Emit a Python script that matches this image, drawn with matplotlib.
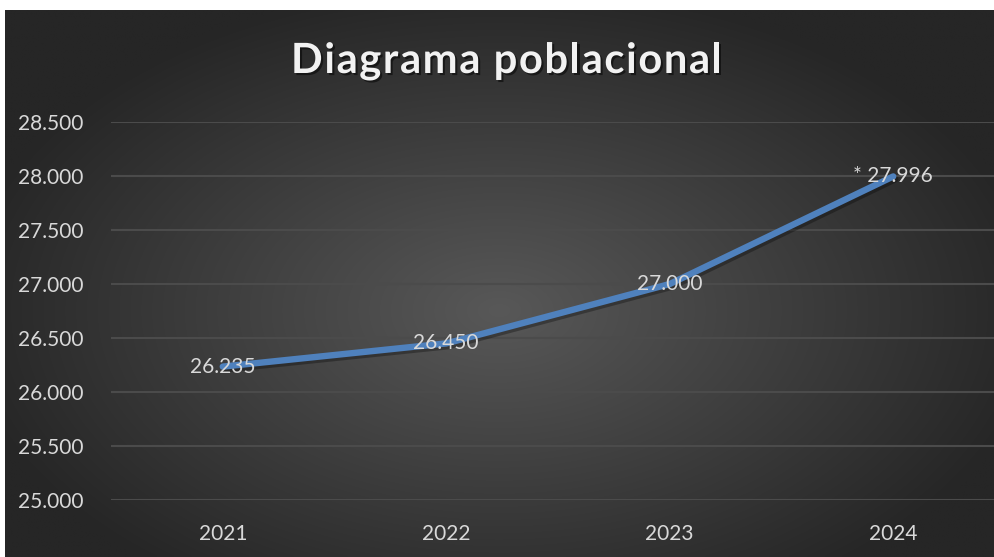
import numpy as np
import matplotlib
matplotlib.use("Agg")
import matplotlib.pyplot as plt
import matplotlib.patheffects as pe

years = ["2021", "2022", "2023", "2024"]
population = [26235, 26450, 27000, 27996]
point_labels = ["26.235", "26.450", "27.000", "* 27.996"]
y_ticks = [25000, 25500, 26000, 26500, 27000, 27500, 28000, 28500]
y_tick_labels = ["25.000", "25.500", "26.000", "26.500", "27.000", "27.500", "28.000", "28.500"]
title = "Diagrama poblacional"

W, H = 994, 557
fig = plt.figure(figsize=(W / 100, H / 100), dpi=100)
fig.patch.set_facecolor("white")

# background radial gradient
bg = fig.add_axes([5 / W, 0, 1 - 5 / W, 1 - 10 / H])
bg.set_axis_off()
gx, gy = np.meshgrid(np.linspace(-1, 1, 400), np.linspace(-1, 1, 240))
cx, cy = 0.0, 0.1
r = np.sqrt(((gx - cx) / 1.1) ** 2 + ((gy - cy) / 1.2) ** 2)
r = np.clip(r, 0, 1)
c0 = np.array([0x58, 0x58, 0x58]) / 255
c1 = np.array([0x26, 0x26, 0x26]) / 255
img = c0[None, None, :] * (1 - r[..., None]) + c1[None, None, :] * r[..., None]
bg.imshow(img, aspect="auto", extent=[0, 1, 0, 1], interpolation="bilinear")
bg.set_xlim(0, 1)
bg.set_ylim(0, 1)

ax = fig.add_axes([111 / W, 1 - 500 / H, (1005 - 111) / W, (500 - 122) / H])
ax.patch.set_alpha(0)
font = "Lato"
x = np.arange(len(years))
ax.plot(x, population, color="#4f81bd", lw=4.6, solid_capstyle="round",
        solid_joinstyle="round", zorder=3,
        path_effects=[pe.SimpleLineShadow(offset=(1.5, -2), shadow_color="black", alpha=0.3),
                      pe.Normal()])
for xi, yi, lab in zip(x, population, point_labels):
    ax.text(xi, yi, lab, ha="center", va="center", color="#d9d9d9",
            fontsize=15, family=font, zorder=4)

ax.set_xlim(-0.5, len(years) - 0.5)
ax.set_ylim(25000, 28500)
ax.set_yticks(y_ticks)
ax.set_yticklabels(y_tick_labels)
ax.set_xticks(x)
ax.set_xticklabels(years)
ax.grid(axis="y", color="#4b4b4b", lw=1.5)
ax.set_axisbelow(True)
for s in ax.spines.values():
    s.set_visible(False)
ax.tick_params(axis="both", length=0, colors="#d9d9d9", labelsize=15)
ax.tick_params(axis="y", pad=20)
ax.tick_params(axis="x", pad=17)
for t in ax.get_xticklabels() + ax.get_yticklabels():
    t.set_family(font)

# letter-spaced title
renderer = fig.canvas.get_renderer()
tkw = dict(color="#f2f2f2", fontsize=30, fontweight="bold", family=font)
def text_width(s):
    if not s:
        return 0.0
    t = fig.text(0, 0, s, **tkw)
    w = t.get_window_extent(renderer).width
    t.remove()
    return w
target_left, target_right = 291, 722
full_w = text_width(title)
spacing = (target_right - target_left - full_w) / (len(title) - 1)
shadow = [pe.SimplePatchShadow(offset=(1.5, -1.5), shadow_rgbFace="black", alpha=0.5), pe.Normal()]
for i, ch in enumerate(title):
    if ch == " ":
        continue
    xpos = target_left + text_width(title[:i]) + i * spacing
    fig.text(xpos / W, 1 - 73 / H, ch, ha="left", va="baseline", path_effects=shadow, **tkw)

fig.savefig("out.png", dpi=100)
